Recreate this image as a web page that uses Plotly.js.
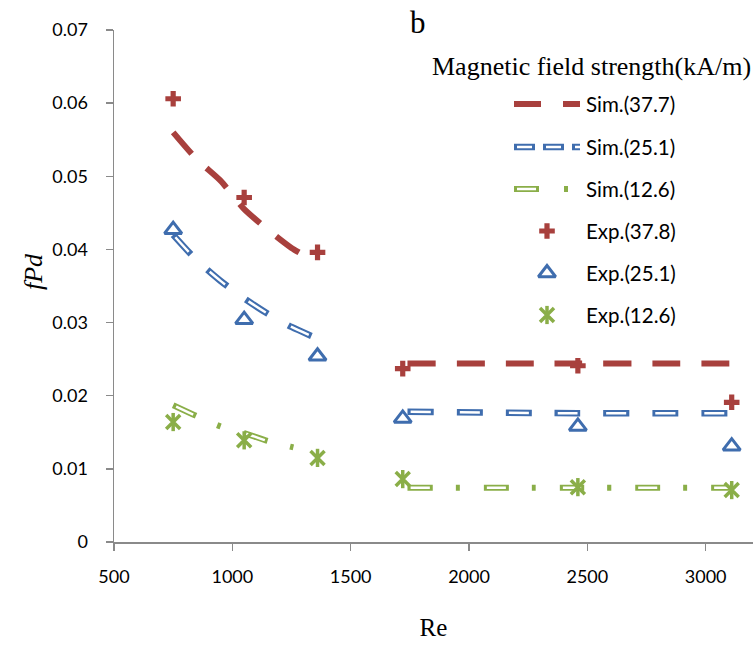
<!DOCTYPE html>
<html>
<head>
<meta charset="utf-8">
<script src="https://cdn.plot.ly/plotly-3.0.1.min.js"></script>
<style>html,body{margin:0;padding:0;background:#fff;}#chart{width:754px;height:645px;}</style>
</head>
<body>
<div id="chart"></div>
<script>
// ---- data ----
var expRe = [750, 1050, 1360, 1720, 2460, 3110];
var exp378 = [0.0606, 0.0471, 0.0396, 0.0237, 0.0241, 0.0191];
var exp251 = [0.0427, 0.0304, 0.0254, 0.0169, 0.0158, 0.0131];
var exp126 = [0.0164, 0.0139, 0.0115, 0.0086, 0.0075, 0.0071];

var simReA = [750, 850, 950, 1050, 1150, 1250, 1360];
var sim377A = [0.0560, 0.0523, 0.0494, 0.0455, 0.0427, 0.0402, 0.0382];
var sim251A = [0.0420, 0.0385, 0.0357, 0.0333, 0.0312, 0.0294, 0.0278];
var sim126A = [0.0187, 0.0172, 0.0158, 0.0149, 0.0138, 0.0130, 0.0122];

var simReB = [1740, 2460, 3100];
var sim377B = [0.0244, 0.0244, 0.0244];
var sim251B = [0.0178, 0.0176, 0.0176];
var sim126B = [0.0074, 0.0074, 0.0074];

var xTicks = [500, 1000, 1500, 2000, 2500, 3000];
var yTicks = [0, 0.01, 0.02, 0.03, 0.04, 0.05, 0.06, 0.07];
var legendTitle = 'Magnetic field strength(kA/m)';
var legendLabels = ['Sim.(37.7)', 'Sim.(25.1)', 'Sim.(12.6)', 'Exp.(37.8)', 'Exp.(25.1)', 'Exp.(12.6)'];

// ---- styles ----
var RED = '#A8403D', BLUE = '#3F6DAE', GREEN = '#8AAE48';
var AXC = '#8a8a8a';
var SANS = 'Lato, "Liberation Sans", sans-serif';
var SERIF = '"Liberation Serif", "Times New Roman", serif';

function line(x, y, color, width, dash, xa, ya) {
  return {x: x, y: y, type: 'scatter', mode: 'lines', showlegend: false, hoverinfo: 'skip',
    line: {color: color, width: width, dash: dash, shape: 'spline', smoothing: 0.6},
    xaxis: xa || 'x', yaxis: ya || 'y'};
}
function marks(x, y, symbol, size, color, lw, xa, ya) {
  return {x: x, y: y, type: 'scatter', mode: 'markers', showlegend: false, hoverinfo: 'skip',
    marker: {symbol: symbol, size: size, color: color, line: {color: color, width: lw}},
    xaxis: xa || 'x', yaxis: ya || 'y'};
}

var blueDash = '26px,23px', blueIn = '0.01px,3px,20px,25.99px';
var greenDash = '25px,23px,4px,24px', greenIn = '0.01px,3px,19px,53.99px';
var redDash = '28px,21px';

var traces = [];
[[simReA, sim377A], [simReB, sim377B]].forEach(function (s) {
  traces.push(line(s[0], s[1], RED, 6, redDash));
});
[[simReA, sim251A], [simReB, sim251B]].forEach(function (s) {
  traces.push(line(s[0], s[1], BLUE, 6.5, blueDash));
  traces.push(line(s[0], s[1], '#ffffff', 2.5, blueIn));
});
[[simReA, sim126A], [simReB, sim126B]].forEach(function (s) {
  traces.push(line(s[0], s[1], GREEN, 6, greenDash));
  traces.push(line(s[0], s[1], '#ffffff', 2.5, greenIn));
});
traces.push(marks(expRe, exp378, 'cross', 13, RED, 0));
traces.push(marks(expRe, exp251, 'triangle-up-open', 15, BLUE, 3));
traces.push(marks(expRe, exp126, 'x-thin-open', 14, GREEN, 3.5));
traces.push(marks(expRe, exp126, 'line-ns-open', 13, GREEN, 3.5));

// ---- legend drawn on a pixel-like overlay axis ----
var rows = [104, 147, 189, 231, 273, 315];
var sx = [514, 580];
function legLine(row, color, w, dash) {
  var t = line(sx, [row, row], color, w, dash, 'x2', 'y2');
  t.line.shape = 'linear';
  return t;
}
traces.push(legLine(rows[0], RED, 6, '27px,22px'));
traces.push(legLine(rows[1], BLUE, 6.5, '21px,8px'));
traces.push(legLine(rows[1], '#ffffff', 2.5, '0.01px,3px,15px,10.99px'));
traces.push(legLine(rows[2], GREEN, 6, '25px,25px,4px,20px'));
traces.push(legLine(rows[2], '#ffffff', 2.5, '0.01px,3px,19px,51.99px'));
traces.push(marks([547], [rows[3]], 'cross', 13, RED, 0, 'x2', 'y2'));
traces.push(marks([547], [rows[4]], 'triangle-up-open', 15, BLUE, 3, 'x2', 'y2'));
traces.push(marks([547], [rows[5]], 'x-thin-open', 14, GREEN, 3.5, 'x2', 'y2'));
traces.push(marks([547], [rows[5]], 'line-ns-open', 13, GREEN, 3.5, 'x2', 'y2'));

var annotations = legendLabels.map(function (txt, i) {
  return {xref: 'x2', yref: 'y2', x: 584, y: rows[i], text: txt, showarrow: false,
    xanchor: 'left', yanchor: 'middle', font: {family: SANS, size: 20.5, color: '#000'}};
});
annotations.push({xref: 'x2', yref: 'y2', x: 753, y: 66, text: legendTitle, showarrow: false,
  xanchor: 'right', yanchor: 'middle', font: {family: SERIF, size: 26, color: '#000'}});
// "b" panel label and y title in paper coordinates
annotations.push({xref: 'paper', yref: 'paper', x: (418 - 114) / 639, y: (542 - 22) / 512, text: 'b', showarrow: false,
  xanchor: 'center', yanchor: 'middle', font: {family: SERIF, size: 31, color: '#000'}});
annotations.push({xref: 'paper', yref: 'paper', x: (33 - 114) / 639, y: (542 - 272) / 512, text: '<i>fPd</i>', showarrow: false,
  textangle: -90, xanchor: 'center', yanchor: 'middle', font: {family: SERIF, size: 26, color: '#000'}});

var layout = {
  width: 754, height: 645,
  margin: {l: 114, r: 1, t: 30, b: 103, pad: 0},
  paper_bgcolor: '#fff', plot_bgcolor: '#fff',
  showlegend: false,
  xaxis: {range: [500, 3200], tickvals: xTicks, ticktext: xTicks.map(String),
    showline: true, linecolor: AXC, linewidth: 1.5, ticks: 'outside', ticklen: 7, tickwidth: 1.5, tickcolor: AXC,
    showgrid: false, zeroline: false, tickfont: {family: SANS, size: 18, color: '#000'},
    ticklabelstandoff: 11,
    title: {text: 'Re', font: {family: SERIF, size: 25, color: '#000'}, standoff: 32}},
  xaxis3: {overlaying: 'x', anchor: 'y', side: 'bottom', range: [500, 3200], tickvals: xTicks,
    showticklabels: false, showline: false, ticks: 'inside', ticklen: 7, tickwidth: 1.5, tickcolor: AXC,
    showgrid: false, zeroline: false, fixedrange: true},
  yaxis: {range: [0, 0.07], tickvals: yTicks, ticktext: yTicks.map(function (v) { return v === 0 ? '0' : v.toFixed(2); }),
    showline: true, linecolor: AXC, linewidth: 1.5, ticks: 'outside', ticklen: 7, tickwidth: 1.5, tickcolor: AXC,
    showgrid: false, zeroline: false, tickfont: {family: SANS, size: 18, color: '#000'},
    ticklabelstandoff: 14},
  xaxis2: {overlaying: 'x', anchor: 'y2', range: [114, 753], visible: false, fixedrange: true},
  yaxis2: {overlaying: 'y', anchor: 'x2', range: [542, 30], visible: false, fixedrange: true},
  annotations: annotations
};

Plotly.newPlot('chart', traces, layout, {staticPlot: true, displayModeBar: false});
</script>
</body>
</html>
